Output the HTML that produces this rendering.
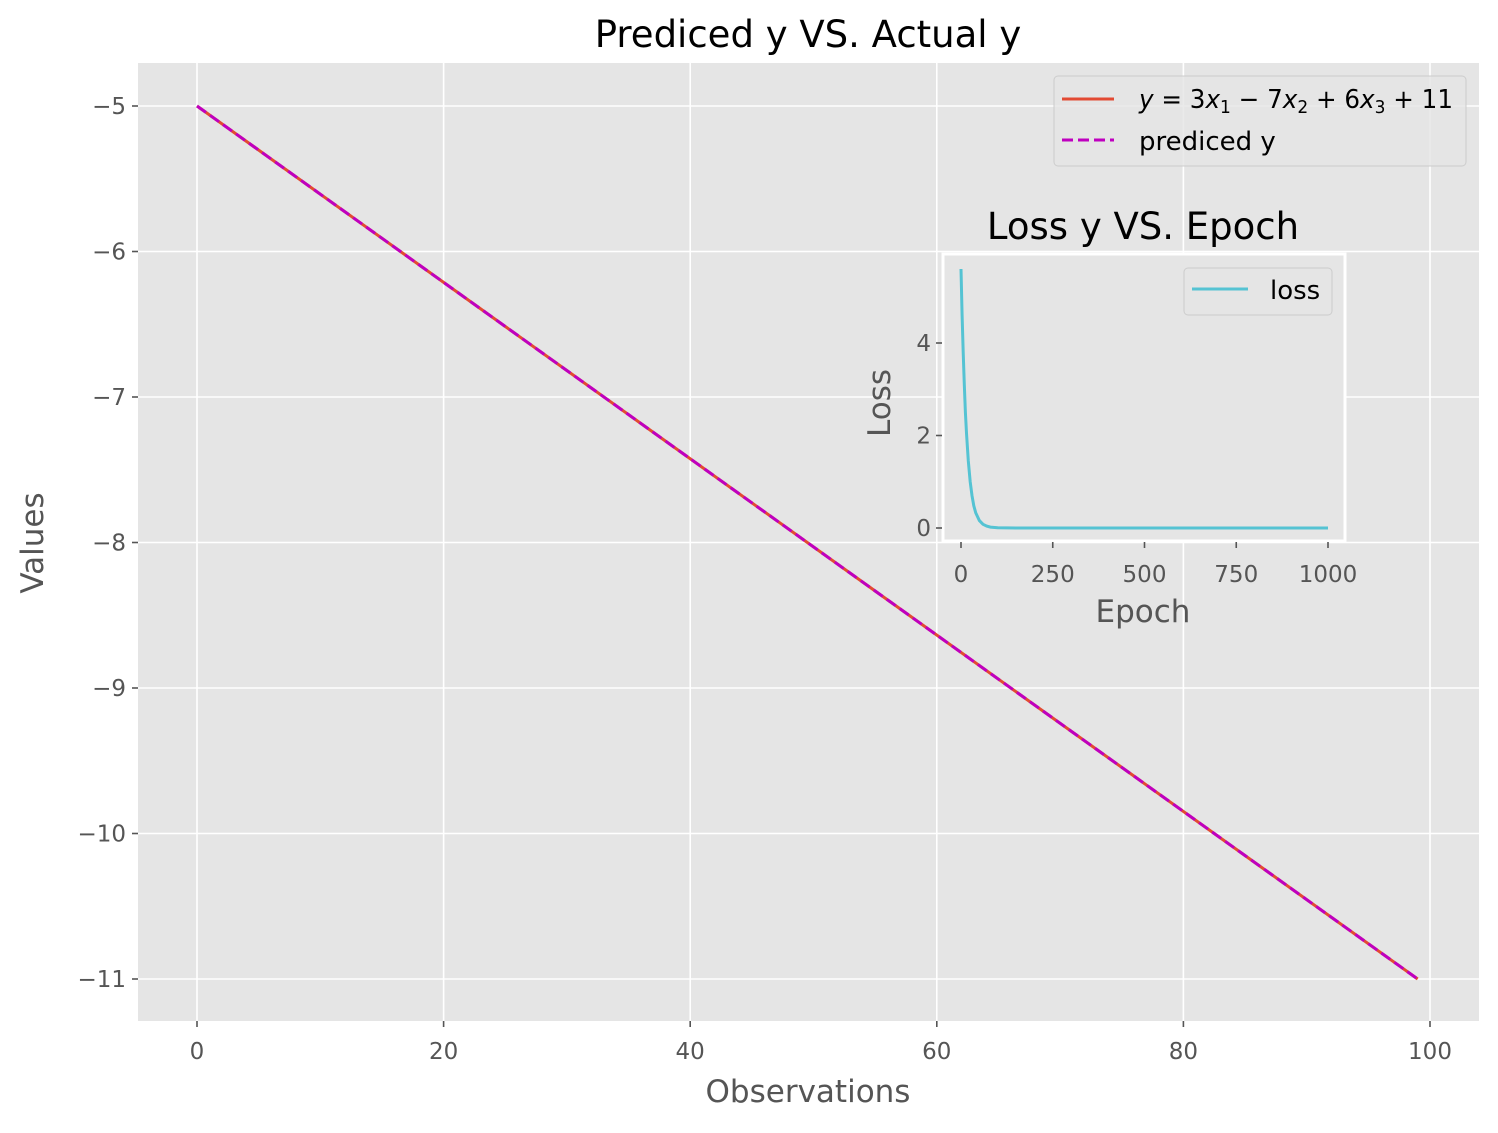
<!DOCTYPE html>
<html><head><meta charset="utf-8"><style>
body{margin:0;background:#fff}
svg text{font-family:"DejaVu Sans","Liberation Sans",sans-serif}
</style></head><body>
<svg id="chart" width="1498" height="1128" xmlns="http://www.w3.org/2000/svg">
<rect width="1498" height="1128" fill="#fff"/>
<g id="main"></g>
<g id="inset"></g>
</svg>
<script>
const obsStart = 0, obsEnd = 99, valStart = -5, valEnd = -11;
const mainXTicks = [0,20,40,60,80,100];
const mainYTicks = [-5,-6,-7,-8,-9,-10,-11];
const mainYTickLabels = ["\u22125","\u22126","\u22127","\u22128","\u22129","\u221210","\u221211"];
const lossEpochs = [0,3,6,9,12,15,20,25,30,35,40,50,60,70,80,100,150,200,400,600,800,1000];
const lossValues = [5.6,4.6,3.8,3.1,2.5,2.05,1.45,1.0,0.7,0.48,0.33,0.16,0.08,0.04,0.02,0.005,0.001,0,0,0,0,0];
const insetXTicks = [0,250,500,750,1000];
const insetYTicks = [0,2,4];

const NS="http://www.w3.org/2000/svg";
function mk(p,t,a,txt){const e=document.createElementNS(NS,t);for(const k in a)e.setAttribute(k,a[k]);if(txt!==undefined)e.textContent=txt;p.appendChild(e);return e;}
const main=document.getElementById('main'), inset=document.getElementById('inset');

const L=138,R=1479,T=63,B=1021;
const sx=v=>197+(v-0)*(1430-197)/100;
const sy=v=>106+(v+5)*(979-106)/(-6);
let e=mk(main,'rect',{x:L,y:T,width:R-L,height:B-T,fill:'#e5e5e5'});

mainXTicks.forEach(t=>{
  let g=mk(main,'line',{x1:sx(t),x2:sx(t),y1:T,y2:B,stroke:'#fff','stroke-width':1.6});
  
  let k=mk(main,'line',{x1:sx(t),x2:sx(t),y1:B,y2:B+6,stroke:'#555','stroke-width':1.6});
  
  let l=mk(main,'text',{x:sx(t),y:B+38,'font-size':23,fill:'#555','text-anchor':'middle'},String(t));
  
});
mainYTicks.forEach((t,i)=>{
  let g=mk(main,'line',{x1:L,x2:R,y1:sy(t),y2:sy(t),stroke:'#fff','stroke-width':1.6});
  
  let k=mk(main,'line',{x1:L-6,x2:L,y1:sy(t),y2:sy(t),stroke:'#555','stroke-width':1.6});
  
  let l=mk(main,'text',{x:L-12,y:sy(t)+8,'font-size':23,fill:'#555','text-anchor':'end'},mainYTickLabels[i]);
  
});
let a1=mk(main,'line',{x1:sx(obsStart),y1:sy(valStart),x2:sx(obsEnd),y2:sy(valEnd),stroke:'#e24a33','stroke-width':3});

let a2=mk(main,'line',{x1:sx(obsStart),y1:sy(valStart),x2:sx(obsEnd),y2:sy(valEnd),stroke:'#bf00bf','stroke-width':3,'stroke-dasharray':'11,5'});

let tt=mk(main,'text',{x:808,y:47,'font-size':37,fill:'#000','text-anchor':'middle'},'Prediced y VS. Actual y');

let xt=mk(main,'text',{x:808,y:1102,'font-size':31,fill:'#555','text-anchor':'middle'},'Observations');

let yt=mk(main,'text',{x:43,y:543,'font-size':31,fill:'#555','text-anchor':'middle',transform:'rotate(-90 43 543)'},'Values');

let lg=mk(main,'rect',{x:1054,y:76,width:412,height:90,rx:4,fill:'#e5e5e5',stroke:'#ccc','stroke-width':1,'fill-opacity':0.8});

mk(main,'line',{x1:1062,x2:1114,y1:99,y2:99,stroke:'#e24a33','stroke-width':3});
let le1=mk(main,'text',{x:1139,y:108,'font-size':26,fill:'#000',textLength:314,lengthAdjust:'spacingAndGlyphs'});
le1.innerHTML='<tspan font-style="italic">y</tspan> = 3<tspan font-style="italic">x</tspan><tspan font-size="18" dy="5">1</tspan><tspan dy="-5"> − 7</tspan><tspan font-style="italic">x</tspan><tspan font-size="18" dy="5">2</tspan><tspan dy="-5"> + 6</tspan><tspan font-style="italic">x</tspan><tspan font-size="18" dy="5">3</tspan><tspan dy="-5"> + 11</tspan>';

mk(main,'line',{x1:1062,x2:1114,y1:140,y2:140,stroke:'#bf00bf','stroke-width':3,'stroke-dasharray':'11,5'});
let le2=mk(main,'text',{x:1139,y:150,'font-size':26,fill:'#000'},'prediced y');


const iL=943,iR=1345,iT=254,iB=541;
const ix=v=>961+v*(1328-961)/1000;
const iy=v=>528+v*(343-528)/4;
let ib=mk(inset,'rect',{x:iL,y:iT,width:iR-iL,height:iB-iT,fill:'#e5e5e5',stroke:'#fff','stroke-width':3});

insetXTicks.forEach(t=>{
  mk(inset,'line',{x1:ix(t),x2:ix(t),y1:iB+1,y2:iB+7,stroke:'#555','stroke-width':1.6});
  let l=mk(inset,'text',{x:ix(t),y:iB+41,'font-size':23,fill:'#555','text-anchor':'middle'},String(t));
  
});
insetYTicks.forEach(t=>{
  mk(inset,'line',{x1:iL-7,x2:iL-1,y1:iy(t),y2:iy(t),stroke:'#555','stroke-width':1.6});
  let l=mk(inset,'text',{x:iL-12,y:iy(t)+8,'font-size':23,fill:'#555','text-anchor':'end'},String(t));
  
});
let pts=lossEpochs.map((x,i)=>ix(x).toFixed(1)+','+iy(lossValues[i]).toFixed(1)).join(' ');
let lp=mk(inset,'polyline',{points:pts,fill:'none',stroke:'#55c3d3','stroke-width':3});

let it=mk(inset,'text',{x:1143,y:239,'font-size':37,fill:'#000','text-anchor':'middle'},'Loss y VS. Epoch');

let ixt=mk(inset,'text',{x:1143,y:622,'font-size':31,fill:'#555','text-anchor':'middle'},'Epoch');

let iyt=mk(inset,'text',{x:890,y:403,'font-size':31,fill:'#555','text-anchor':'middle',transform:'rotate(-90 890 403)'},'Loss');

let il=mk(inset,'rect',{x:1184,y:268,width:148,height:47,rx:4,fill:'#e5e5e5',stroke:'#ccc','stroke-width':1});

mk(inset,'line',{x1:1192,x2:1248,y1:289,y2:289,stroke:'#55c3d3','stroke-width':3});
let ile=mk(inset,'text',{x:1270,y:299,'font-size':26,fill:'#000'},'loss');

</script>
</body></html>
